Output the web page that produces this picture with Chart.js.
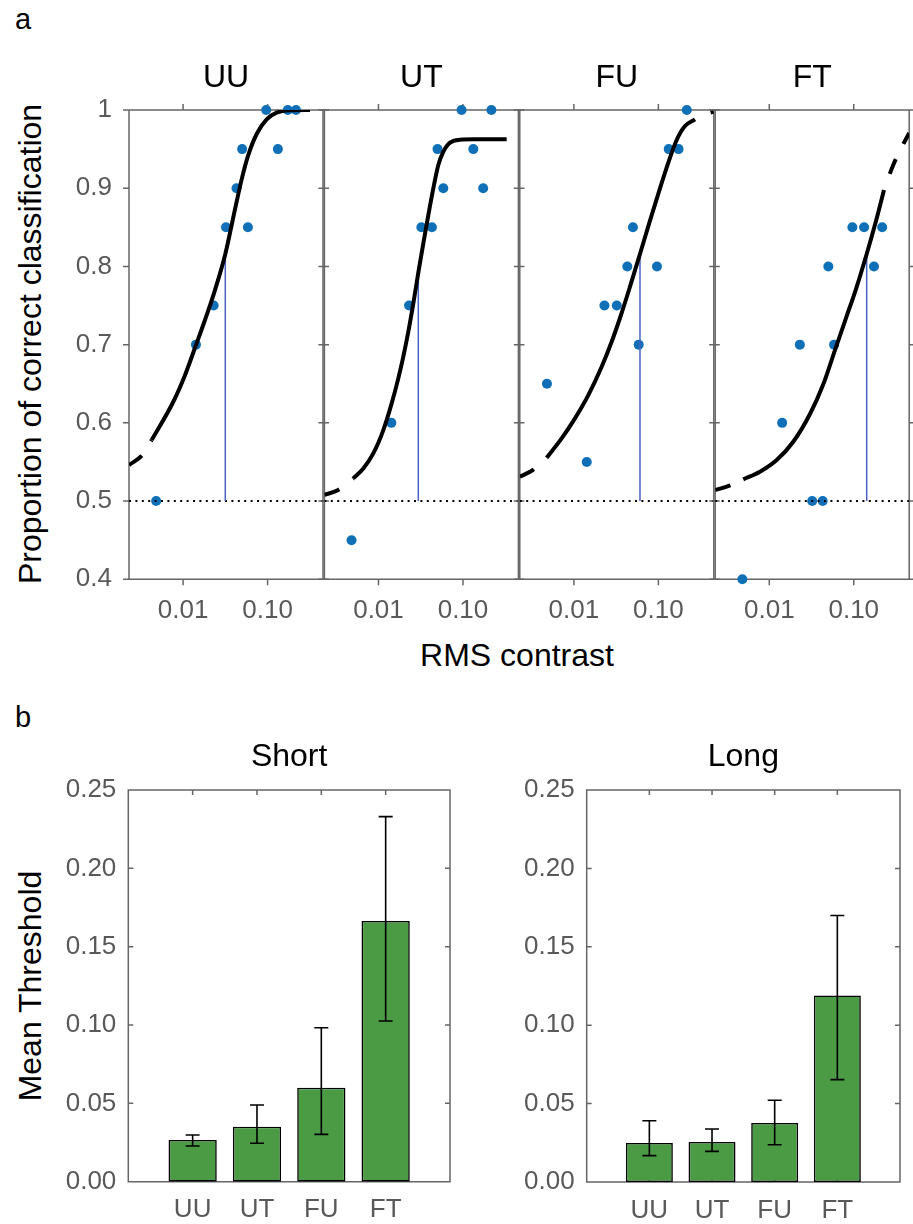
<!DOCTYPE html>
<html><head><meta charset="utf-8">
<script src="https://cdn.jsdelivr.net/npm/chart.js@4.4.1/dist/chart.umd.min.js"></script>
<style>
html,body{margin:0;padding:0;background:#fff;overflow:hidden;}
body{width:913px;height:1224px;position:relative;font-family:"Liberation Sans",Arial,sans-serif;}
canvas{position:absolute;}
.lbl{position:absolute;white-space:nowrap;color:#000;transform:translate(-50%,-50%);}
.rot{transform:translate(-50%,-50%) rotate(-90deg);}
</style></head><body>
<div class="lbl" style="left:23px;top:19px;font-size:29px;">a</div>
<div class="lbl" style="left:23px;top:717px;font-size:29px;">b</div>
<div class="lbl rot" style="left:30px;top:344px;font-size:32px;">Proportion of correct classification</div>
<div class="lbl" style="left:517px;top:655px;font-size:32px;">RMS contrast</div>
<div class="lbl rot" style="left:30px;top:986px;font-size:32px;">Mean Threshold</div>
<canvas id="cUU"></canvas><canvas id="cUT"></canvas><canvas id="cFU"></canvas><canvas id="cFT"></canvas>
<canvas id="cShort"></canvas><canvas id="cLong"></canvas>
<script>
// ---------- data: panel a ----------
const panelNames = ['UU', 'UT', 'FU', 'FT'];
const contrastLevels = [0.0048, 0.0142, 0.0230, 0.0322, 0.0429, 0.0500, 0.0585, 0.0963, 0.1325, 0.1735, 0.2170];
const uuCorrect = [0.50, 0.70, 0.75, 0.85, 0.90, 0.95, 0.85, 1.00, 0.95, 1.00, 1.00];
const utCorrect = [0.45, 0.60, 0.75, 0.85, 0.85, 0.95, 0.90, 1.00, 0.95, 0.90, 1.00];
const fuCorrect = [0.65, 0.55, 0.75, 0.75, 0.80, 0.85, 0.70, 0.80, 0.95, 0.95, 1.00];
const ftCorrect = [0.40, 0.60, 0.70, 0.50, 0.50, 0.80, 0.70, 0.85, 0.85, 0.80, 0.85];
const chanceLevel = 0.5;
const rmsMin = 0.00229, rmsMax = 0.453;
const propTicks = [0.4, 0.5, 0.6, 0.7, 0.8, 0.9, 1.0];
const rmsTicks = [0.01, 0.1];

// thresholds [contrast, proportion]
const uuThreshold = [0.0316, 0.816];
const utThreshold = [0.0296, 0.792];
const fuThreshold = [0.0606, 0.816];
const ftThreshold = [0.1422, 0.816];

// fitted curves (solid part)
const uuFitX = [0.004246, 0.00766, 0.01053, 0.01421, 0.01816, 0.02385, 0.03162, 0.03758, 0.04305, 0.04935, 0.0592, 0.0743, 0.0975, 0.1281, 0.1842, 0.3177];
const uuFitY = [0.578, 0.627, 0.661, 0.6995, 0.7315, 0.7698, 0.8159, 0.853, 0.8828, 0.9113, 0.9425, 0.9693, 0.9881, 0.9966, 0.9996, 1.0];
const utFitX = [0.005036, 0.006612, 0.008686, 0.01141, 0.01432, 0.01717, 0.01967, 0.02254, 0.02584, 0.02961, 0.03394, 0.03889, 0.04457, 0.05107, 0.05854, 0.0671, 0.07686, 0.0922, 0.1326, 0.329];
const utFitY = [0.529, 0.5418, 0.561, 0.5908, 0.6249, 0.6569, 0.6846, 0.7165, 0.7528, 0.792, 0.8295, 0.8657, 0.8998, 0.9297, 0.9467, 0.9565, 0.9604, 0.9621, 0.9625, 0.9625];
const fuFitX = [0.004761, 0.007164, 0.0103, 0.01482, 0.02132, 0.028, 0.0361, 0.04614, 0.06058, 0.07958, 0.1045, 0.1312, 0.1646, 0.2066, 0.2714];
const fuFitY = [0.5554, 0.5801, 0.6057, 0.6355, 0.6718, 0.7037, 0.7379, 0.7741, 0.8159, 0.8585, 0.8998, 0.9327, 0.9616, 0.9795, 0.9881];
const ftFitX = [0.004922, 0.007762, 0.01224, 0.01923, 0.03032, 0.04322, 0.05993, 0.0809, 0.1062, 0.1422, 0.1832, 0.2279];
const ftFitY = [0.5278, 0.5375, 0.5524, 0.5758, 0.6113, 0.6483, 0.6931, 0.734, 0.7711, 0.8159, 0.8581, 0.8977];
// dashed extensions (left of and right of the solid part)
const uuLeftX = [0.00229, 0.0033, 0.004246], uuLeftY = [0.546, 0.559, 0.578];
const uuRightX = [0.3177, 0.453], uuRightY = [1.0, 1.0];
const utLeftX = [0.00229, 0.00329, 0.005036], utLeftY = [0.508, 0.514, 0.529];
const utRightX = [0.329, 0.453], utRightY = [0.9625, 0.9625];
const fuLeftX = [0.00229, 0.00329, 0.004761], fuLeftY = [0.531, 0.540, 0.5554];
const fuRightX = [0.2714, 0.35, 0.453], fuRightY = [0.9881, 0.994, 0.998];
const ftLeftX = [0.00229, 0.00344, 0.004922], ftLeftY = [0.514, 0.520, 0.5278];
const ftRightX = [0.2279, 0.2931, 0.3645, 0.453], ftRightY = [0.8977, 0.9297, 0.9514, 0.9706];

// ---------- data: panel b ----------
const conditions = ['UU', 'UT', 'FU', 'FT'];
const shortMean = [0.0266, 0.0351, 0.0600, 0.1664];
const shortLow  = [0.0228, 0.0245, 0.0302, 0.1026];
const shortHigh = [0.0298, 0.0490, 0.0983, 0.2330];
const longMean  = [0.0249, 0.0255, 0.0377, 0.1190];
const longLow   = [0.0168, 0.0195, 0.0238, 0.0653];
const longHigh  = [0.0391, 0.0338, 0.0521, 0.1700];
const thresholdTicks = [0, 0.05, 0.10, 0.15, 0.20, 0.25];

// ---------- helpers ----------
Chart.defaults.font.family = "'Liberation Sans', Arial, sans-serif";
Chart.defaults.animation = false;
const FRAME = '#666666', TICKTXT = '#595959';
const TITLE_SIZE = 32, TICK_SIZE = 26;

const boxTicks = {
  id: 'boxTicks',
  beforeDatasetsDraw(chart, args, o) {
    const {ctx, chartArea: a, scales} = chart;
    const d = o.inward ? -1 : 1, len = o.len;
    ctx.save();
    ctx.strokeStyle = FRAME; ctx.lineWidth = 1.5; ctx.lineCap = 'butt';
    ctx.beginPath();
    ctx.rect(a.left, a.top, a.right - a.left, a.bottom - a.top);
    for (const v of o.yTicks) {
      const y = scales.y.getPixelForValue(v);
      ctx.moveTo(a.left, y); ctx.lineTo(a.left - d * len, y);
      ctx.moveTo(a.right, y); ctx.lineTo(a.right + d * len, y);
    }
    for (const v of o.xTicks) {
      const x = scales.x.getPixelForValue(v);
      ctx.moveTo(x, a.bottom); ctx.lineTo(x, a.bottom + d * len);
      ctx.moveTo(x, a.top); ctx.lineTo(x, a.top - d * len);
    }
    ctx.stroke(); ctx.restore();
  }
};
const errorBars = {
  id: 'errorBars',
  afterDatasetsDraw(chart, args, o) {
    if (!o.low) return;
    const {ctx} = chart, meta = chart.getDatasetMeta(0), ys = chart.scales.y;
    ctx.save(); ctx.strokeStyle = '#000'; ctx.lineWidth = 1.6;
    ctx.beginPath();
    o.low.forEach((lo, i) => {
      if (lo == null) return;
      const x = meta.data[i].x, y1 = ys.getPixelForValue(lo), y2 = ys.getPixelForValue(o.high[i]);
      ctx.moveTo(x, y1); ctx.lineTo(x, y2);
      ctx.moveTo(x - 7, y1); ctx.lineTo(x + 7, y1);
      ctx.moveTo(x - 7, y2); ctx.lineTo(x + 7, y2);
    });
    ctx.stroke(); ctx.restore();
  }
};
Chart.register(boxTicks, errorBars);

function pts(xs, ys) { return xs.map((x, i) => ({x: x, y: ys[i]})); }

// title box: text centred at titleCenter, box ends at area top
function titleOpts(text, areaTop, titleCenter) {
  const pb = areaTop - titleCenter - 0.6 * TITLE_SIZE;
  return {opts: {display: true, text: text, fullSize: false, color: '#000',
                 font: {size: TITLE_SIZE, weight: 'normal', lineHeight: 1.2},
                 padding: {top: 0, bottom: pb}},
          h: 1.2 * TITLE_SIZE + pb};
}

function build(id, rect, area, wy, hx, titleH, config) {
  const c = document.getElementById(id);
  c.width = rect.w; c.height = rect.h;
  c.style.left = rect.x + 'px'; c.style.top = rect.y + 'px';
  c.style.width = rect.w + 'px'; c.style.height = rect.h + 'px';
  config.options.layout = {padding: {
    left: area.l - rect.x - wy, top: area.t - rect.y - titleH,
    right: rect.x + rect.w - area.r, bottom: rect.y + rect.h - area.b - hx}};
  config.options.scales.y.afterFit = s => { s.width = wy; };
  config.options.scales.x.afterFit = s => { s.height = hx; };
  config.options.responsive = false;
  config.options.events = [];
  return new Chart(c, config);
}

// ---------- panel a ----------
const panelsA = [
  {name: 'UU', correct: uuCorrect, thr: uuThreshold, fx: uuFitX, fy: uuFitY, lx: uuLeftX, ly: uuLeftY, rx: uuRightX, ry: uuRightY},
  {name: 'UT', correct: utCorrect, thr: utThreshold, fx: utFitX, fy: utFitY, lx: utLeftX, ly: utLeftY, rx: utRightX, ry: utRightY},
  {name: 'FU', correct: fuCorrect, thr: fuThreshold, fx: fuFitX, fy: fuFitY, lx: fuLeftX, ly: fuLeftY, rx: fuRightX, ry: fuRightY},
  {name: 'FT', correct: ftCorrect, thr: ftThreshold, fx: ftFitX, fy: ftFitY, lx: ftLeftX, ly: ftLeftY, rx: ftRightX, ry: ftRightY}
];
const aLeft = [129, 324.4, 519.8, 715.2], aWidth = 194, aTop = 110, aBottom = 579.3;

panelsA.forEach((p, i) => {
  const first = i === 0;
  const L = aLeft[i];
  const wy = first ? 129 : 8;
  const rx = Math.floor(L - wy);
  const rect = {x: rx, y: 40, w: Math.ceil(L + aWidth + 12) - rx, h: 600};
  const area = {l: L, t: aTop, r: L + aWidth, b: aBottom};
  const t = titleOpts(p.name, aTop, 78);
  const curve = {type: 'line', borderColor: '#000', borderWidth: 4, pointRadius: 0,
                 cubicInterpolationMode: 'monotone', borderCapStyle: 'butt', fill: false};
  build('c' + p.name, rect, area, wy, 60, t.h, {
    type: 'line',
    data: {datasets: [
      Object.assign({data: pts(p.fx, p.fy), order: 1}, curve),
      Object.assign({data: pts(p.lx, p.ly), order: 1, borderDash: [16, 17]}, curve),
      Object.assign({data: pts(p.rx, p.ry), order: 1, borderDash: [16, 17], borderDashOffset: 16}, curve),
      {type: 'line', data: [{x: p.thr[0], y: chanceLevel}, {x: p.thr[0], y: p.thr[1]}],
       borderColor: '#4a62c4', borderWidth: 1.5, pointRadius: 0, order: 2},
      {type: 'line', data: [{x: rmsMin, y: chanceLevel}, {x: rmsMax, y: chanceLevel}],
       borderColor: '#000', borderWidth: 2, borderDash: [2, 4.4], pointRadius: 0, order: 2},
      {type: 'scatter', data: pts(contrastLevels, p.correct), showLine: false,
       pointRadius: 5, pointBackgroundColor: '#0f70b8', pointBorderWidth: 0, order: 3, clip: false}
    ]},
    options: {
      plugins: {
        legend: {display: false}, tooltip: {enabled: false},
        title: t.opts,
        boxTicks: {yTicks: propTicks, xTicks: rmsTicks, len: 6, inward: false}
      },
      scales: {
        x: {type: 'logarithmic', min: rmsMin, max: rmsMax, bounds: 'data',
            grid: {display: false, drawTicks: false}, border: {display: false},
            afterBuildTicks: s => { s.ticks = rmsTicks.map(v => ({value: v})); },
            ticks: {autoSkip: false, maxRotation: 0, padding: 16, color: TICKTXT,
                    font: {size: TICK_SIZE}, callback: v => Number(v).toFixed(2)}},
        y: {type: 'linear', min: 0.4, max: 1,
            grid: {display: false, drawTicks: false}, border: {display: false},
            ticks: {display: first, stepSize: 0.1, padding: 17, color: TICKTXT, font: {size: TICK_SIZE},
                    callback: v => Math.abs(v - 1) < 1e-9 ? '1' : Number(v).toFixed(1)}}
      }
    }
  });
});

// ---------- panel b ----------
function barPanel(id, title, mean, low, high, rect, area, wy) {
  const t = titleOpts(title, area.t, 757);
  build(id, rect, area, wy, 40, t.h, {
    type: 'bar',
    data: {labels: [''].concat(conditions, ['']),
           datasets: [{data: [null].concat(mean, [null]), backgroundColor: '#4b9b45',
                       borderColor: '#000', borderWidth: 1.6, borderSkipped: false,
                       categoryPercentage: 1, barPercentage: 0.75}]},
    options: {
      plugins: {
        legend: {display: false}, tooltip: {enabled: false},
        title: t.opts,
        boxTicks: {yTicks: thresholdTicks, xTicks: [1, 2, 3, 4], len: 5, inward: true},
        errorBars: {low: [null].concat(low, [null]), high: [null].concat(high, [null])}
      },
      scales: {
        x: {type: 'category', offset: false, grid: {display: false, drawTicks: false, offset: false},
            border: {display: false},
            ticks: {autoSkip: false, maxRotation: 0, padding: 13, color: TICKTXT, font: {size: TICK_SIZE}}},
        y: {type: 'linear', min: 0, max: 0.25,
            grid: {display: false, drawTicks: false}, border: {display: false},
            ticks: {stepSize: 0.05, padding: 12, color: TICKTXT, font: {size: TICK_SIZE},
                    callback: v => Number(v).toFixed(2)}}
      }
    }
  });
}
barPanel('cShort', 'Short', shortMean, shortLow, shortHigh,
         {x: 0, y: 700, w: 470, h: 524}, {l: 128.3, t: 790, r: 450, b: 1181.7}, 128.3);
barPanel('cLong', 'Long', longMean, longLow, longHigh,
         {x: 470, y: 700, w: 443, h: 524}, {l: 586.7, t: 790, r: 907.7, b: 1182}, 116.7);
</script>
</body></html>
